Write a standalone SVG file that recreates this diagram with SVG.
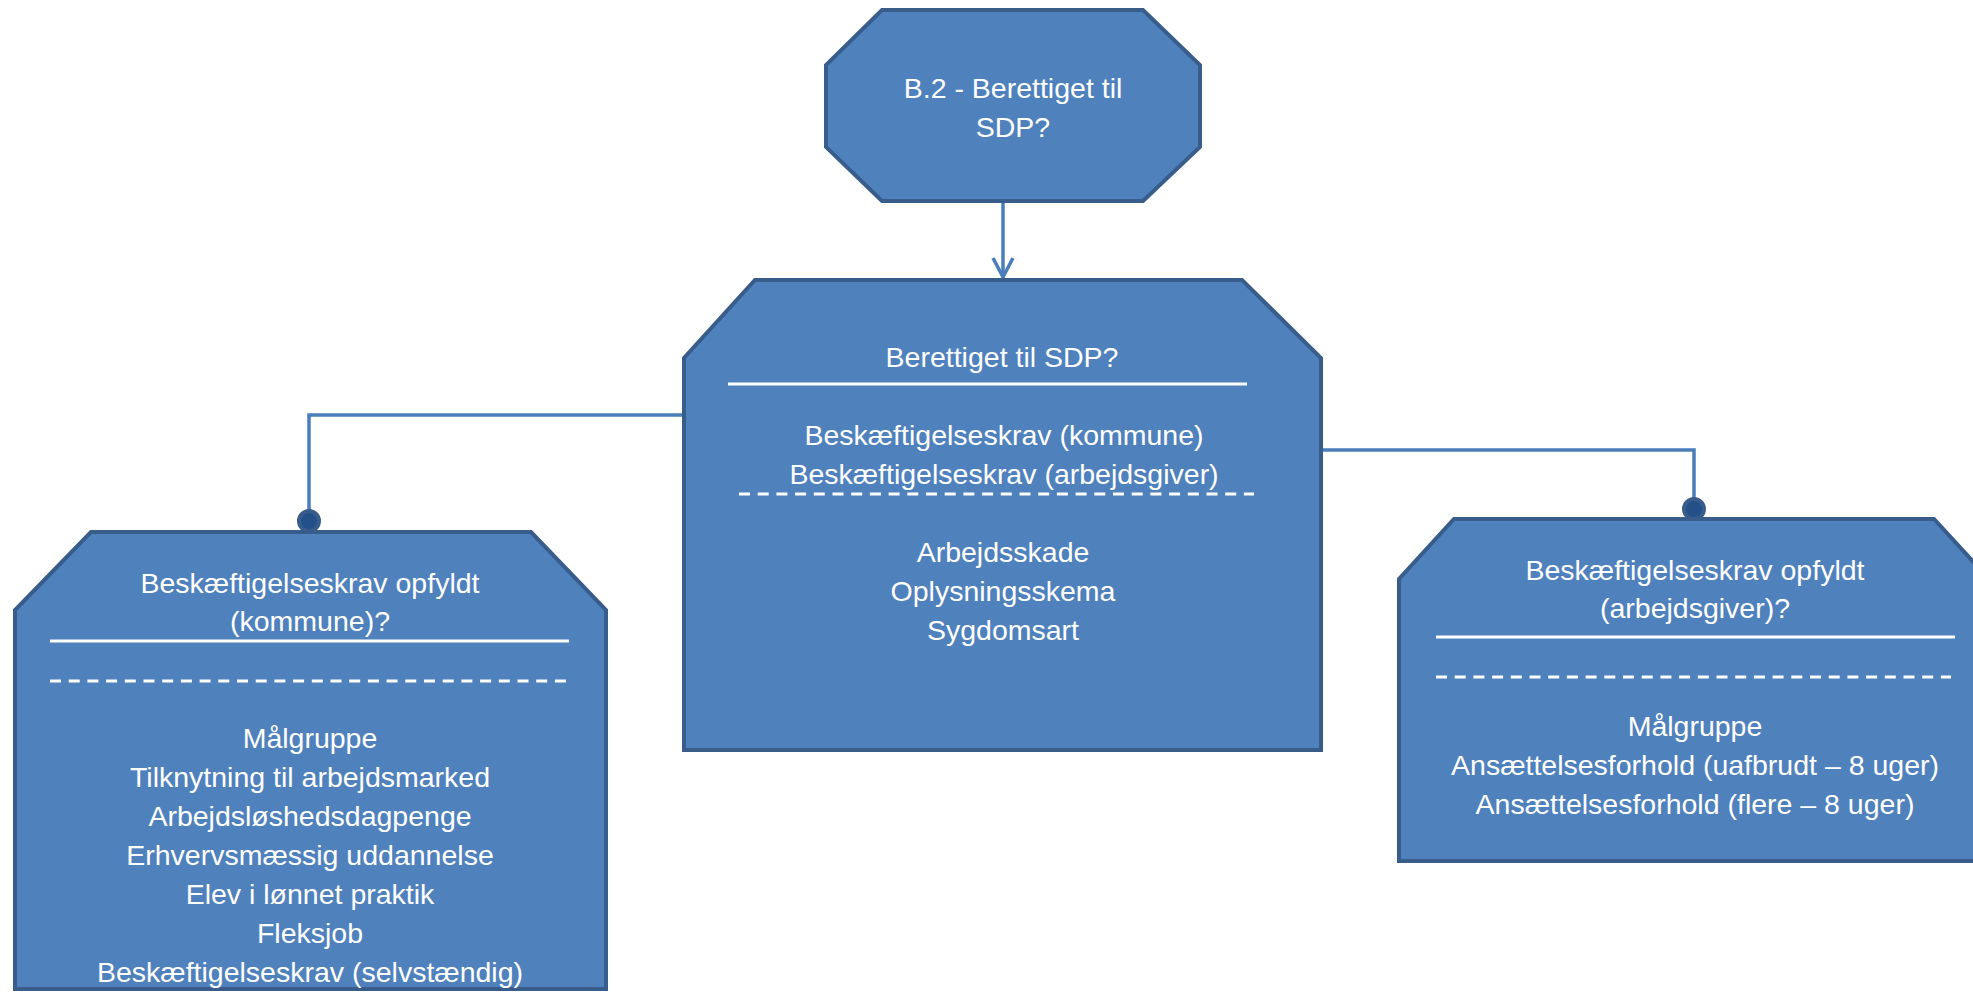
<svg xmlns="http://www.w3.org/2000/svg" width="1973" height="993" viewBox="0 0 1973 993">
<defs>
<style>
.node{fill:#4F81BD;stroke:#385D8A;stroke-width:4;stroke-linejoin:miter}
.t{font-family:"Liberation Sans",Arial,sans-serif;font-size:28.5px;fill:#FFFFFF;text-anchor:middle}
.sep{stroke:#FFFFFF;stroke-width:3;fill:none}
.dash{stroke:#FFFFFF;stroke-width:3;fill:none;stroke-dasharray:11 7.7}
.conn{stroke:#4A7EBB;stroke-width:3.5;fill:none}
.dot{fill:#24508A;stroke:#385D8A;stroke-width:4}
</style>
<marker id="arr" viewBox="0 0 24 24" refX="22" refY="12" markerWidth="24" markerHeight="24" markerUnits="userSpaceOnUse" orient="auto">
<path d="M2,2 L21,12 L2,22" fill="none" stroke="#4A7EBB" stroke-width="3.5"/>
</marker>
</defs>
<rect width="1973" height="993" fill="#FFFFFF"/>
<g id="connectors">
<line class="conn" x1="1003" y1="203" x2="1003" y2="278" marker-end="url(#arr)"/>
<polyline class="conn" points="684,415 309,415 309,512"/>
<polyline class="conn" points="1321,450 1694,450 1694,500"/>
<circle class="dot" cx="309" cy="521" r="10"/>
<circle class="dot" cx="1694" cy="509" r="10"/>
</g>
<g id="node-b2">
<polygon class="node" points="882,10 1143,10 1200,65 1200,147 1143,201 882,201 826,147 826,65"/>
<text class="t" x="1013" y="98">B.2 - Berettiget til</text>
<text class="t" x="1013" y="137">SDP?</text>
</g>
<g id="node-berettiget">
<polygon class="node" points="755,280 1242,280 1321,358 1321,750 684,750 684,358"/>
<text class="t" x="1002" y="367">Berettiget til SDP?</text>
<line class="sep" x1="728" y1="384" x2="1247" y2="384"/>
<text class="t" x="1004" y="445">Beskæftigelseskrav  (kommune)</text>
<text class="t" x="1004" y="484">Beskæftigelseskrav (arbejdsgiver)</text>
<line class="dash" x1="739" y1="494" x2="1254" y2="494"/>
<text class="t" x="1003" y="562">Arbejdsskade</text>
<text class="t" x="1003" y="601">Oplysningsskema</text>
<text class="t" x="1003" y="640">Sygdomsart</text>
</g>
<g id="node-kommune">
<polygon class="node" points="91,532 531,532 606,610 606,989 15,989 15,610"/>
<text class="t" x="310" y="593">Beskæftigelseskrav opfyldt</text>
<text class="t" x="310" y="631">(kommune)?</text>
<line class="sep" x1="50" y1="641" x2="569" y2="641"/>
<line class="dash" x1="50" y1="681" x2="566" y2="681"/>
<text class="t" x="310" y="748">Målgruppe</text>
<text class="t" x="310" y="787">Tilknytning til arbejdsmarked</text>
<text class="t" x="310" y="826">Arbejdsløshedsdagpenge</text>
<text class="t" x="310" y="865">Erhvervsmæssig uddannelse</text>
<text class="t" x="310" y="904">Elev i lønnet praktik</text>
<text class="t" x="310" y="943">Fleksjob</text>
<text class="t" x="310" y="982">Beskæftigelseskrav (selvstændig)</text>
</g>
<g id="node-arbejdsgiver">
<polygon class="node" points="1454,519 1934,519 1989,579 1989,861 1399,861 1399,579"/>
<text class="t" x="1695" y="580">Beskæftigelseskrav  opfyldt</text>
<text class="t" x="1695" y="618">(arbejdsgiver)?</text>
<line class="sep" x1="1436" y1="637" x2="1955" y2="637"/>
<line class="dash" x1="1436" y1="677" x2="1951" y2="677"/>
<text class="t" x="1695" y="736">Målgruppe</text>
<text class="t" x="1695" y="775">Ansættelsesforhold (uafbrudt – 8 uger)</text>
<text class="t" x="1695" y="814">Ansættelsesforhold (flere – 8 uger)</text>
</g>
</svg>
